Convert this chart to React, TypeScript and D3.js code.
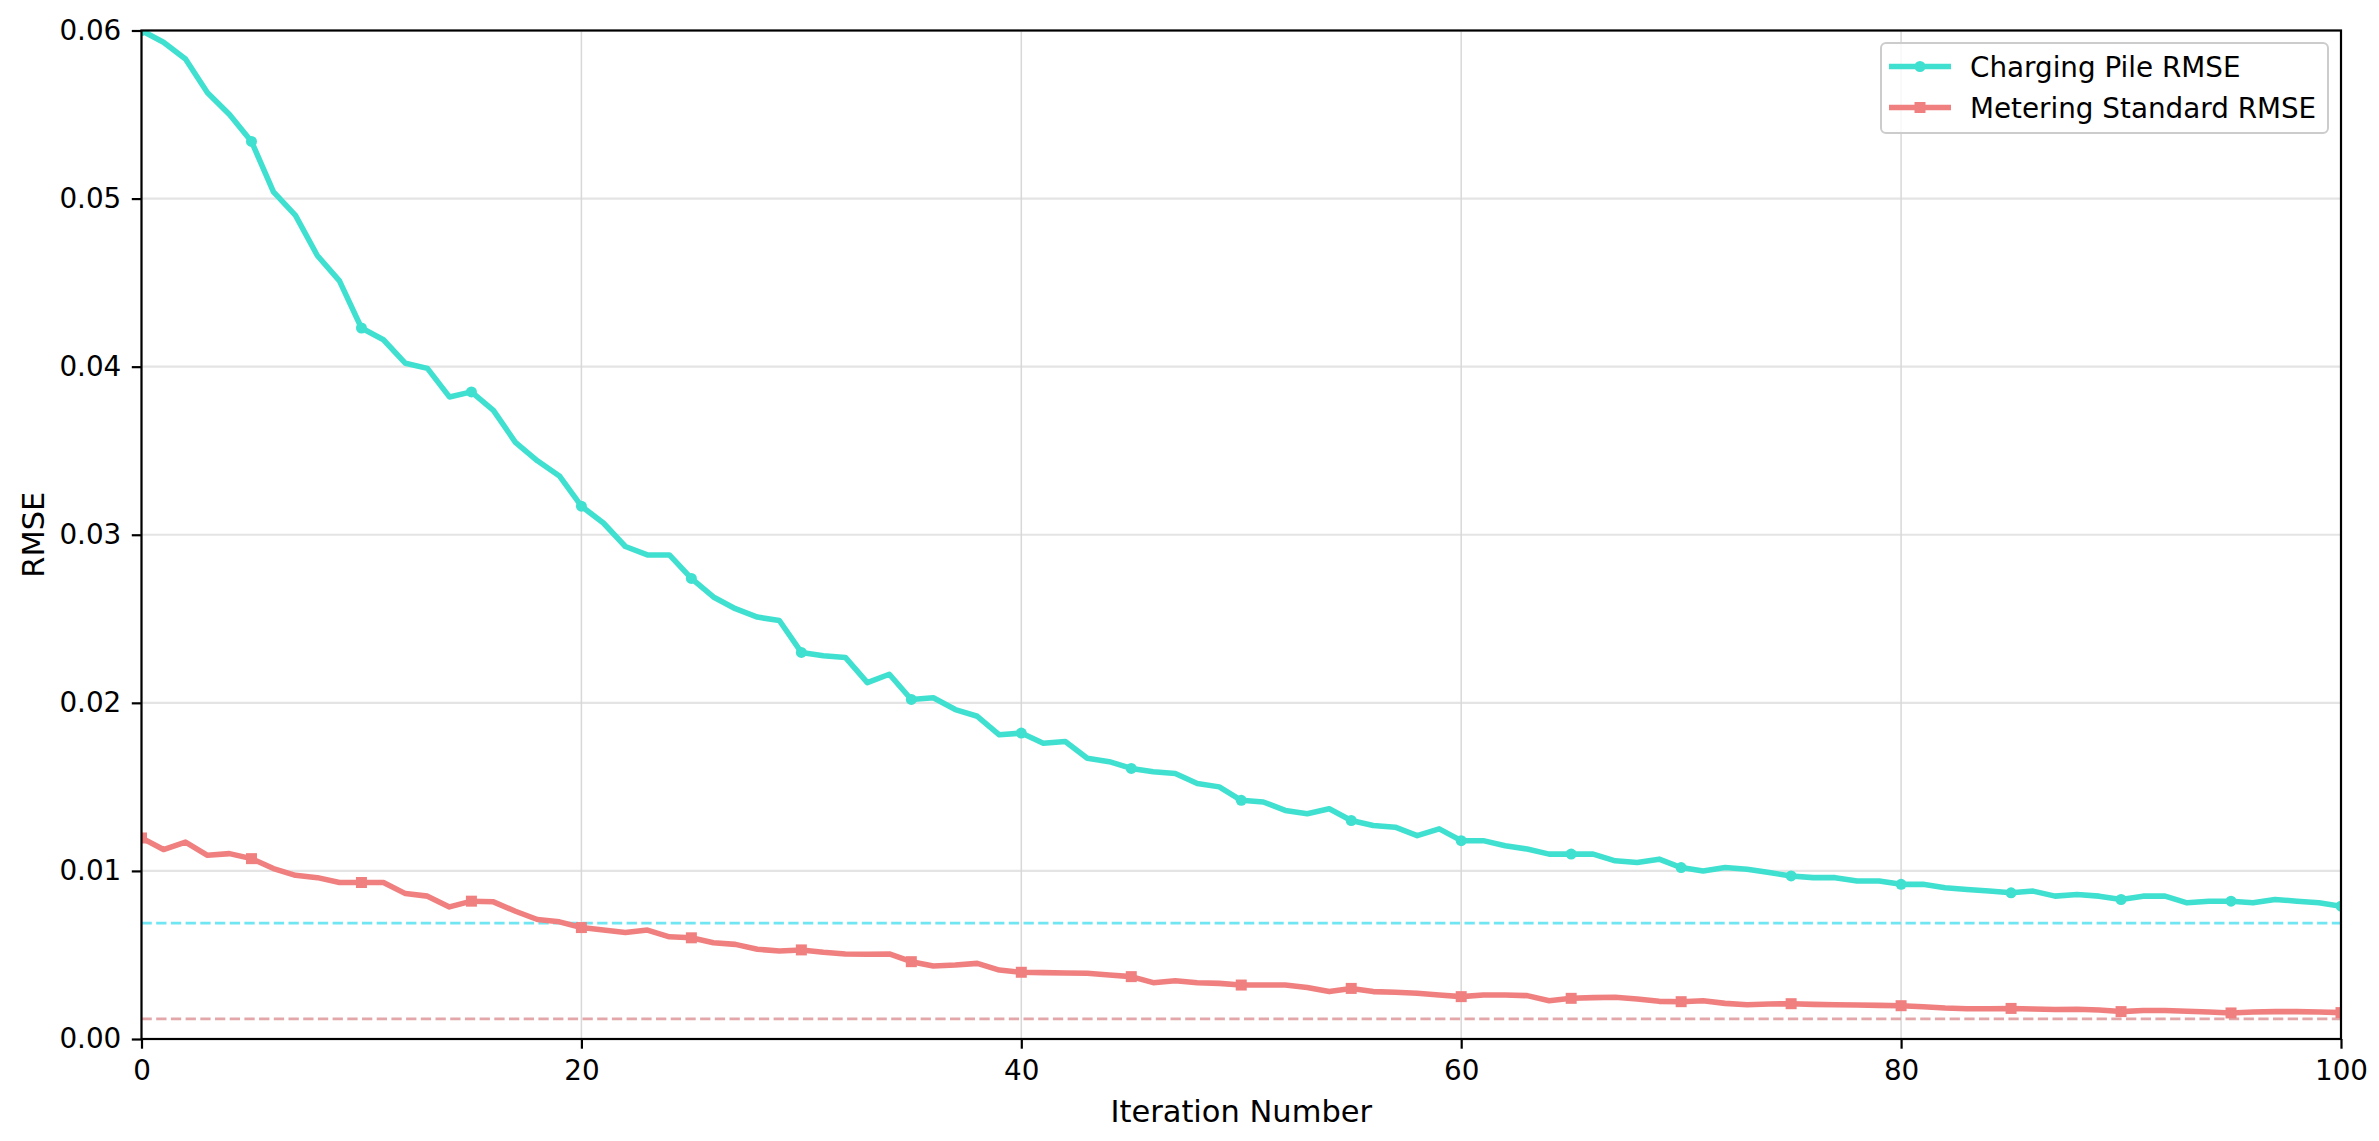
import { useEffect, useRef } from "react"
import * as d3 from "d3"

// RMSE per iteration (index = iteration number)
const chargingPileRmse = [
  0.06, 0.0593, 0.0583, 0.0563, 0.055, 0.0534, 0.0504, 0.049, 0.0466, 0.0451,
  0.0423, 0.0416, 0.0402, 0.0399, 0.0382, 0.0385, 0.0374, 0.0355, 0.0344, 0.0335,
  0.0317, 0.0307, 0.0293, 0.0288, 0.0288, 0.0274, 0.0263, 0.0256, 0.0251, 0.0249,
  0.023, 0.0228, 0.0227, 0.0212, 0.0217, 0.0202, 0.0203, 0.0196, 0.0192, 0.0181,
  0.0182, 0.0176, 0.0177, 0.0167, 0.0165, 0.0161, 0.0159, 0.0158, 0.0152, 0.015,
  0.0142, 0.0141, 0.0136, 0.0134, 0.0137, 0.013, 0.0127, 0.0126, 0.0121, 0.0125,
  0.0118, 0.0118, 0.0115, 0.0113, 0.011, 0.011, 0.011, 0.0106, 0.0105, 0.0107,
  0.0102, 0.01, 0.0102, 0.0101, 0.0099, 0.0097, 0.0096, 0.0096, 0.0094, 0.0094,
  0.0092, 0.0092, 0.009, 0.0089, 0.0088, 0.0087, 0.0088, 0.0085, 0.0086, 0.0085,
  0.0083, 0.0085, 0.0085, 0.0081, 0.0082, 0.0082, 0.0081, 0.0083, 0.0082, 0.0081,
  0.0079,
]

const meteringStandardRmse = [
  0.01196, 0.01127, 0.01172, 0.01093, 0.01103, 0.01073, 0.01014, 0.00974, 0.0096, 0.00931,
  0.00931, 0.00931, 0.00865, 0.0085, 0.00786, 0.0082, 0.00816, 0.0076, 0.00711, 0.00697,
  0.00663, 0.00648, 0.00634, 0.00648, 0.00608, 0.00602, 0.00573, 0.00563, 0.00534, 0.00524,
  0.0053, 0.00516, 0.00506, 0.00504, 0.00506, 0.0046, 0.00434, 0.0044, 0.0045, 0.0041,
  0.00397, 0.00395, 0.00393, 0.00391, 0.00381, 0.00371, 0.00335, 0.00347, 0.00335, 0.00331,
  0.00321, 0.00321, 0.00321, 0.00307, 0.00282, 0.00301, 0.00282, 0.00278, 0.00272, 0.00262,
  0.00252, 0.00262, 0.00262, 0.00258, 0.00228, 0.00242, 0.00246, 0.00248, 0.00238, 0.00224,
  0.00222, 0.00228, 0.00212, 0.00204, 0.00208, 0.0021, 0.00206, 0.00204, 0.00202, 0.002,
  0.00198, 0.00192, 0.00184, 0.0018, 0.0018, 0.00182, 0.00179, 0.00175, 0.00177, 0.00173,
  0.00163, 0.00169, 0.00169, 0.00165, 0.00161, 0.00155, 0.00161, 0.00163, 0.00163, 0.00161,
  0.00157,
]

// dashed reference levels
const chargingPileTarget = 0.0069
const meteringStandardTarget = 0.0012

const xTicks = [0, 20, 40, 60, 80, 100]
const yTicks = [0, 0.01, 0.02, 0.03, 0.04, 0.05, 0.06]

interface Series {
  name: string
  values: number[]
  color: string
  marker: "circle" | "square"
}

const series: Series[] = [
  { name: "Charging Pile RMSE", values: chargingPileRmse, color: "#40E0D0", marker: "circle" },
  { name: "Metering Standard RMSE", values: meteringStandardRmse, color: "#F08080", marker: "square" },
]

const FONT = "'DejaVu Sans', sans-serif"
const FONT_SIZE = 27.8
const LABEL_SIZE = 30.5

const App = () => {
  const svgRef = useRef<SVGSVGElement | null>(null)

  useEffect(() => {
    if (!svgRef.current) return
    const svg = d3.select(svgRef.current)
    svg.selectAll("*").remove()

    const width = 2379
    const height = 1141
    const margin = { top: 30.5, right: 38, bottom: 102, left: 141.5 }
    const innerWidth = width - margin.left - margin.right
    const innerHeight = height - margin.top - margin.bottom

    const xScale = d3.scaleLinear().domain([0, 100]).range([0, innerWidth])
    const yScale = d3.scaleLinear().domain([0, 0.06]).range([innerHeight, 0])

    svg.append("rect").attr("width", width).attr("height", height).attr("fill", "#fff")

    svg
      .append("defs")
      .append("clipPath")
      .attr("id", "plot-clip")
      .append("rect")
      .attr("width", innerWidth)
      .attr("height", innerHeight)

    const g = svg.append("g").attr("transform", `translate(${margin.left},${margin.top})`)

    // grid
    g.append("g")
      .selectAll("line")
      .data(yTicks)
      .join("line")
      .attr("x1", 0)
      .attr("x2", innerWidth)
      .attr("y1", (d) => yScale(d))
      .attr("y2", (d) => yScale(d))
      .attr("stroke", "#e4e4e4")
      .attr("stroke-width", 2.2)

    g.append("g")
      .selectAll("line")
      .data(xTicks)
      .join("line")
      .attr("x1", (d) => xScale(d))
      .attr("x2", (d) => xScale(d))
      .attr("y1", 0)
      .attr("y2", innerHeight)
      .attr("stroke", "#d8d8d8")
      .attr("stroke-width", 1.5)

    const plot = g.append("g").attr("clip-path", "url(#plot-clip)")

    // dashed target lines
    plot
      .append("line")
      .attr("x1", 0)
      .attr("x2", innerWidth)
      .attr("y1", yScale(chargingPileTarget))
      .attr("y2", yScale(chargingPileTarget))
      .attr("stroke", "#6fe6f2")
      .attr("stroke-width", 2.78)
      .attr("stroke-dasharray", "10.3,4.4")

    plot
      .append("line")
      .attr("x1", 0)
      .attr("x2", innerWidth)
      .attr("y1", yScale(meteringStandardTarget))
      .attr("y2", yScale(meteringStandardTarget))
      .attr("stroke", "#e3a6a9")
      .attr("stroke-width", 2.78)
      .attr("stroke-dasharray", "10.3,4.4")

    const line = d3
      .line<number>()
      .x((_, i) => xScale(i))
      .y((d) => yScale(d))

    const markerSize = 11

    series.forEach((s) => {
      plot
        .append("path")
        .datum(s.values)
        .attr("d", line)
        .attr("fill", "none")
        .attr("stroke", s.color)
        .attr("stroke-width", 5.56)
        .attr("stroke-linejoin", "round")

      const marked = s.values.map((v, i) => ({ i, v })).filter((d) => d.i % 5 === 0)
      if (s.marker === "circle") {
        plot
          .selectAll(null)
          .data(marked)
          .join("circle")
          .attr("cx", (d) => xScale(d.i))
          .attr("cy", (d) => yScale(d.v))
          .attr("r", markerSize / 2)
          .attr("fill", s.color)
      } else {
        plot
          .selectAll(null)
          .data(marked)
          .join("rect")
          .attr("x", (d) => xScale(d.i) - markerSize / 2)
          .attr("y", (d) => yScale(d.v) - markerSize / 2)
          .attr("width", markerSize)
          .attr("height", markerSize)
          .attr("fill", s.color)
      }
    })

    // axes
    const xAxis = g
      .append("g")
      .attr("transform", `translate(0,${innerHeight})`)
      .call(d3.axisBottom(xScale).tickValues(xTicks).tickFormat(d3.format("d")).tickSize(9.7).tickPadding(12))
    const yAxis = g
      .append("g")
      .call(d3.axisLeft(yScale).tickValues(yTicks).tickFormat(d3.format(".2f")).tickSize(9.7).tickPadding(10.5))

    ;[xAxis, yAxis].forEach((ax) => {
      ax.select(".domain").remove()
      ax.selectAll("line").attr("stroke", "#000").attr("stroke-width", 2.2)
      ax.selectAll("text").attr("fill", "#000").attr("font-family", FONT).attr("font-size", FONT_SIZE)
    })

    // spines
    g.append("rect")
      .attr("width", innerWidth)
      .attr("height", innerHeight)
      .attr("fill", "none")
      .attr("stroke", "#000")
      .attr("stroke-width", 2.2)

    // axis labels
    svg
      .append("text")
      .attr("x", margin.left + innerWidth / 2)
      .attr("y", 1122)
      .attr("text-anchor", "middle")
      .attr("font-family", FONT)
      .attr("font-size", LABEL_SIZE)
      .text("Iteration Number")

    svg
      .append("text")
      .attr("transform", `translate(44,${margin.top + innerHeight / 2}) rotate(-90)`)
      .attr("text-anchor", "middle")
      .attr("font-family", FONT)
      .attr("font-size", LABEL_SIZE)
      .text("RMSE")

    // legend
    const legend = svg.append("g")
    legend
      .append("rect")
      .attr("x", 1881)
      .attr("y", 43)
      .attr("width", 447)
      .attr("height", 90)
      .attr("rx", 5)
      .attr("fill", "#fff")
      .attr("fill-opacity", 0.8)
      .attr("stroke", "#cccccc")
      .attr("stroke-width", 2)

    const rows = legend
      .selectAll("g.row")
      .data(series)
      .join("g")
      .attr("class", "row")
      .attr("transform", (_, i) => `translate(0,${66.5 + i * 41})`)

    rows
      .append("line")
      .attr("x1", 1889)
      .attr("x2", 1951)
      .attr("stroke", (d) => d.color)
      .attr("stroke-width", 5.56)

    rows.each(function (d) {
      const row = d3.select(this)
      if (d.marker === "circle") {
        row.append("circle").attr("cx", 1920).attr("r", markerSize / 2).attr("fill", d.color)
      } else {
        row
          .append("rect")
          .attr("x", 1920 - markerSize / 2)
          .attr("y", -markerSize / 2)
          .attr("width", markerSize)
          .attr("height", markerSize)
          .attr("fill", d.color)
      }
    })

    rows
      .append("text")
      .attr("x", 1970)
      .attr("y", 10)
      .attr("font-family", FONT)
      .attr("font-size", FONT_SIZE)
      .attr("fill", "#000")
      .text((d) => d.name)
  }, [])

  return (
    <div style={{ position: "absolute", left: 0, top: 0, width: 2379, height: 1141, overflow: "hidden" }}>
      <svg ref={svgRef} width={2379} height={1141} style={{ display: "block" }} />
    </div>
  )
}

export default App
